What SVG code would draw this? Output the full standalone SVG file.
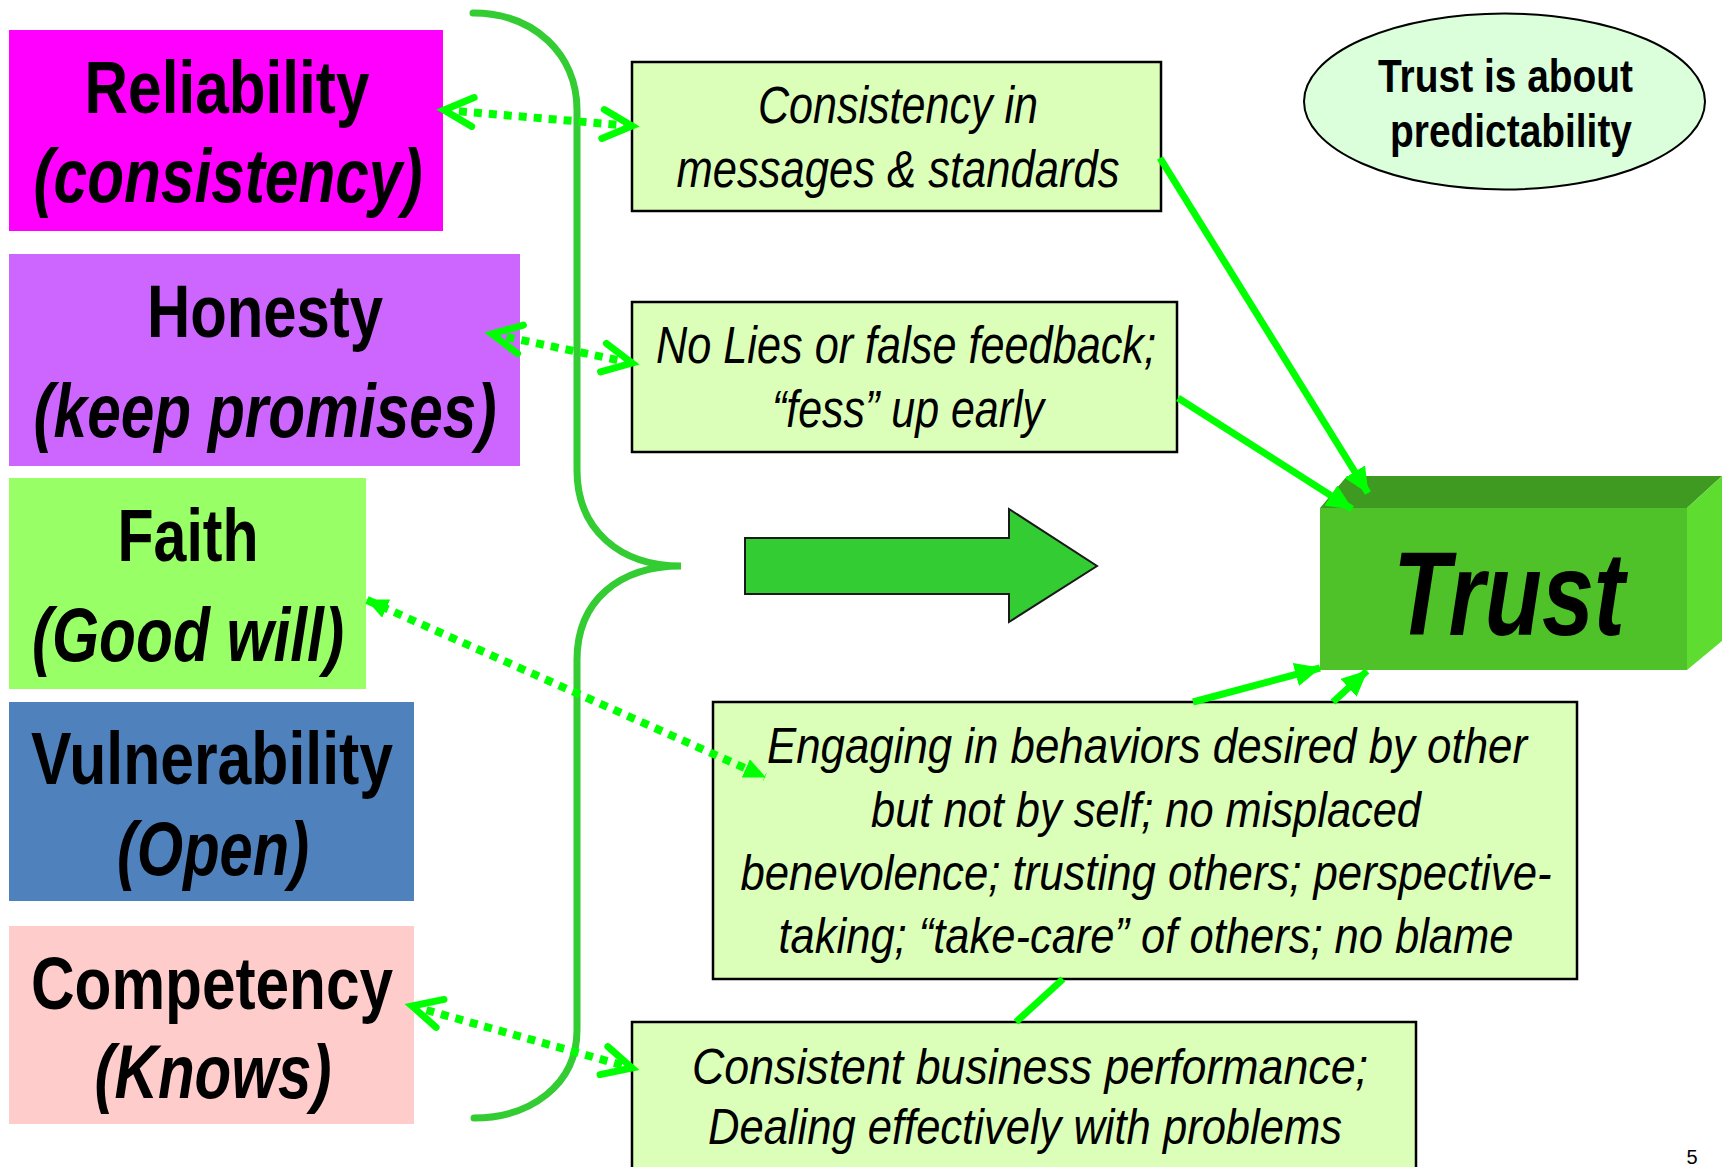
<svg xmlns="http://www.w3.org/2000/svg" width="1725" height="1167" viewBox="0 0 1725 1167">
  <style>
    text { font-family: "Liberation Sans", Arial, sans-serif; fill: #000; text-anchor: middle; }
    .hd { font-weight: bold; font-size: 75px; }
    .sub { font-weight: bold; font-style: italic; font-size: 76px; }
    .note { font-style: italic; font-size: 51px; }
    .note2 { font-style: italic; font-size: 50px; }
    .card { fill: #DBFFB9; stroke: #000; stroke-width: 2.5; }
    .brace { fill: none; stroke: #33CC33; stroke-width: 7; stroke-linecap: round; }
    .dot { fill: none; stroke: #00FF00; stroke-width: 8; stroke-dasharray: 8 7; }
    .solid { fill: none; stroke: #00FF00; stroke-width: 7; }
  </style>
  <defs>
    <marker id="chev" markerUnits="userSpaceOnUse" viewBox="-6 -6 44 42" markerWidth="44" markerHeight="42" refX="30" refY="14" orient="auto-start-reverse" overflow="visible">
      <path d="M1,0 L30,14 L1,29" fill="none" stroke="#00FF00" stroke-width="7" stroke-linecap="round" stroke-linejoin="miter"/>
    </marker>
    <marker id="tri" markerUnits="userSpaceOnUse" viewBox="0 0 22 20" markerWidth="22" markerHeight="20" refX="21" refY="10" orient="auto-start-reverse">
      <path d="M0,0 L22,10 L0,20 z" fill="#00FF00"/>
    </marker>
    <marker id="head" markerUnits="userSpaceOnUse" viewBox="0 0 26 24" markerWidth="26" markerHeight="24" refX="25" refY="12" orient="auto">
      <path d="M0,0 L26,12 L0,24 z" fill="#00FF00"/>
    </marker>
  </defs>

  <!-- curly brace gathering the five qualities -->
  <path class="brace" d="M473,13 C535,13 577,55 577,110 L577,470 C577,530 620,566 681,566 C620,566 577,600 577,660 L577,1030 C577,1085 530,1118 474,1118"/>

  <!-- left column: qualities -->
  <g id="reliability">
    <rect x="9" y="30" width="434" height="201" fill="#FF00FF"/>
    <text class="hd" x="227" y="113" textLength="285" lengthAdjust="spacingAndGlyphs">Reliability</text>
    <text class="sub" x="228" y="202" textLength="389" lengthAdjust="spacingAndGlyphs">(consistency)</text>
  </g>
  <g id="honesty">
    <rect x="9" y="254" width="511" height="212" fill="#CC66FF"/>
    <text class="hd" x="265" y="337" textLength="236" lengthAdjust="spacingAndGlyphs">Honesty</text>
    <text class="sub" x="265" y="437" textLength="463" lengthAdjust="spacingAndGlyphs">(keep promises)</text>
  </g>
  <g id="faith">
    <rect x="9" y="478" width="357" height="211" fill="#99FF66"/>
    <text class="hd" x="188" y="561" textLength="141" lengthAdjust="spacingAndGlyphs">Faith</text>
    <text class="sub" x="188" y="661" textLength="312" lengthAdjust="spacingAndGlyphs">(Good will)</text>
  </g>
  <g id="vulnerability">
    <rect x="9" y="702" width="405" height="199" fill="#4F81BD"/>
    <text class="hd" x="212" y="784" textLength="362" lengthAdjust="spacingAndGlyphs">Vulnerability</text>
    <text class="sub" x="213" y="875" textLength="192" lengthAdjust="spacingAndGlyphs">(Open)</text>
  </g>
  <g id="competency">
    <rect x="9" y="926" width="405" height="198" fill="#FFCCCC"/>
    <text class="hd" x="212" y="1009" textLength="362" lengthAdjust="spacingAndGlyphs">Competency</text>
    <text class="sub" x="213" y="1098" textLength="237" lengthAdjust="spacingAndGlyphs">(Knows)</text>
  </g>

  <!-- block arrow -->
  <g id="big-arrow">
    <polygon points="745,538 1009,538 1009,509 1097,566 1009,622 1009,594 745,594" fill="#33CC33" stroke="#1a1a1a" stroke-width="2"/>
  </g>

  <!-- right column: behaviours -->
  <g id="consistency-box">
    <rect class="card" x="632" y="62" width="529" height="149"/>
    <text class="note" x="898" y="123" textLength="280" lengthAdjust="spacingAndGlyphs">Consistency in</text>
    <text class="note" x="898" y="187" textLength="443" lengthAdjust="spacingAndGlyphs">messages &amp; standards</text>
  </g>
  <g id="no-lies-box">
    <rect class="card" x="632" y="302" width="545" height="150"/>
    <text class="note" x="906" y="363" textLength="500" lengthAdjust="spacingAndGlyphs">No Lies or false feedback;</text>
    <text class="note" x="908" y="427" textLength="272" lengthAdjust="spacingAndGlyphs">“fess” up early</text>
  </g>
  <g id="engaging-box">
    <rect class="card" x="713" y="702" width="864" height="277"/>
    <text class="note2" x="1147" y="763" textLength="760" lengthAdjust="spacingAndGlyphs">Engaging in behaviors desired by other</text>
    <text class="note2" x="1146" y="827" textLength="550" lengthAdjust="spacingAndGlyphs">but not by self; no misplaced</text>
    <text class="note2" x="1146" y="890" textLength="811" lengthAdjust="spacingAndGlyphs">benevolence; trusting others; perspective-</text>
    <text class="note2" x="1146" y="953" textLength="735" lengthAdjust="spacingAndGlyphs">taking; “take-care” of others; no blame</text>
  </g>
  <g id="performance-box">
    <rect class="card" x="632" y="1022" width="784" height="170"/>
    <text class="note2" x="1030" y="1084" textLength="676" lengthAdjust="spacingAndGlyphs">Consistent  business performance;</text>
    <text class="note2" x="1025" y="1144" textLength="634" lengthAdjust="spacingAndGlyphs">Dealing effectively with problems</text>
  </g>

  <!-- summary bubble -->
  <g id="predictability">
    <ellipse cx="1504.5" cy="101.5" rx="200.5" ry="88" fill="#DAFFDA" stroke="#000" stroke-width="2"/>
    <text x="1505.5" y="91.5" font-weight="bold" font-size="47" textLength="255" lengthAdjust="spacingAndGlyphs">Trust is about</text>
    <text x="1511" y="147" font-weight="bold" font-size="47" textLength="242" lengthAdjust="spacingAndGlyphs">predictability</text>
  </g>

  <!-- 3D Trust block -->
  <g id="trust">
    <polygon points="1320,508 1347,476 1722,476 1687,508" fill="#3E9A20"/>
    <polygon points="1687,508 1722,476 1722,641 1687,670" fill="#5EDD30"/>
    <rect x="1320" y="508" width="367" height="162" fill="#4FC22A"/>
    <text x="1509" y="635" font-weight="bold" font-style="italic" font-size="118" textLength="232" lengthAdjust="spacingAndGlyphs">Trust</text>
  </g>

  <!-- connectors -->
  <g id="connectors">
    <line class="dot" x1="444" y1="110" x2="632" y2="126" marker-start="url(#chev)" marker-end="url(#chev)"/>
    <line class="dot" x1="492" y1="334" x2="632" y2="363" marker-start="url(#chev)" marker-end="url(#chev)"/>
    <line class="dot" x1="367" y1="600" x2="765" y2="777" marker-start="url(#tri)" marker-end="url(#tri)"/>
    <line class="dot" x1="412" y1="1006" x2="632" y2="1068" marker-start="url(#chev)" marker-end="url(#chev)"/>

    <line class="solid" x1="1160" y1="158" x2="1368" y2="493" marker-end="url(#head)"/>
    <line class="solid" x1="1178" y1="398" x2="1352" y2="509" marker-end="url(#head)"/>
    <line class="solid" x1="1193" y1="702" x2="1320" y2="668" marker-end="url(#head)"/>
    <line class="solid" x1="1016" y1="1022" x2="1063" y2="979"/>
    <line class="solid" x1="1333" y1="702" x2="1367" y2="671" marker-end="url(#head)"/>
  </g>

  <text x="1692" y="1164" font-size="20" fill="#222">5</text>
</svg>
